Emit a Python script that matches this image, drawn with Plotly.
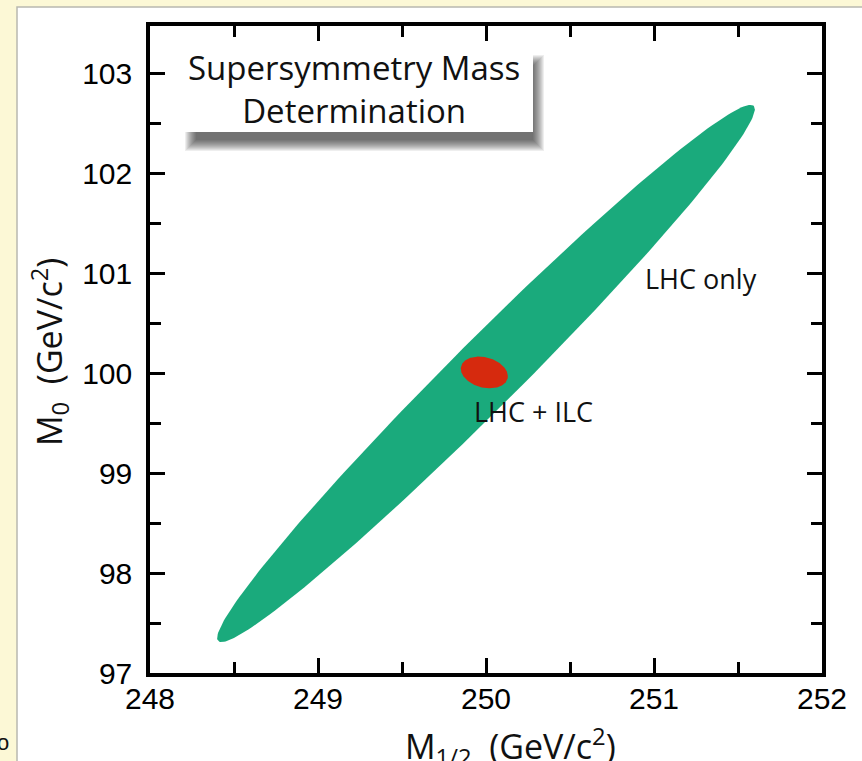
import numpy as np
import plotly.graph_objects as go

# ---- data ----
x_ticks = [248, 249, 250, 251, 252]
y_ticks = [97, 98, 99, 100, 101, 102, 103]

# LHC-only 1-sigma region: centre, widths, correlation
lhc_center = [250.0, 100.0]
lhc_sigma = [1.60, 2.69]
lhc_rho = 0.984

# LHC + ILC region
ilc_center = [249.99, 100.01]
ilc_sigma = [0.140, 0.159]
ilc_rho = -0.234

labels = ["LHC only", "LHC + ILC"]
label_pos = [[251.28, 100.95], [250.28, 99.62]]
title_lines = ["Supersymmetry Mass", "Determination"]

GREEN = "#1aaa7c"
RED = "#d62a0e"


def ellipse(center, sigma, rho, n=240):
    cov = np.array([[sigma[0] ** 2, rho * sigma[0] * sigma[1]],
                    [rho * sigma[0] * sigma[1], sigma[1] ** 2]])
    L = np.linalg.cholesky(cov)
    t = np.linspace(0, 2 * np.pi, n)
    pts = L @ np.vstack([np.cos(t), np.sin(t)])
    return center[0] + pts[0], center[1] + pts[1]


fig = go.Figure()
ex, ey = ellipse(lhc_center, lhc_sigma, lhc_rho)
fig.add_trace(go.Scatter(x=ex, y=ey, fill="toself", fillcolor=GREEN,
                         mode="lines", line=dict(width=0, color=GREEN),
                         hoverinfo="skip", showlegend=False))
rx, ry = ellipse(ilc_center, ilc_sigma, ilc_rho)
fig.add_trace(go.Scatter(x=rx, y=ry, fill="toself", fillcolor=RED,
                         mode="lines", line=dict(width=0, color=RED),
                         hoverinfo="skip", showlegend=False))

W, H = 862, 761
ML, MR, MT, MB = 150, 40, 26, 88
PW, PH = W - ML - MR, H - MT - MB


def px(xp):
    return (xp - ML) / PW


def py(yp):
    return (H - MB - yp) / PH


shapes = []
# white page panel
shapes.append(dict(type="rect", xref="paper", yref="paper", layer="below",
                   x0=px(17), x1=px(870), y0=py(7), y1=py(770),
                   fillcolor="white", line=dict(color="#b8b8b0", width=1.5)))
# title box shadow (layered to imitate blur)
for i in range(12):
    g = 12 - i
    shapes.append(dict(type="rect", xref="paper", yref="paper",
                       x0=px(184 + g), x1=px(545 - g), y0=py(152 - g), y1=py(54 + g),
                       fillcolor="rgba(30,30,30,0.075)", line=dict(width=0)))
shapes.append(dict(type="rect", xref="paper", yref="paper",
                   x0=px(178), x1=px(533), y0=py(132), y1=py(44),
                   fillcolor="white", line=dict(width=0)))

annotations = [
    dict(text="<br>".join(title_lines), xref="paper", yref="paper",
         x=px(354), y=py(89), xanchor="center", yanchor="middle",
         showarrow=False, font=dict(family="Open Sans", size=33, color="#111")),
    dict(text=labels[0], x=label_pos[0][0], y=label_pos[0][1], showarrow=False,
         font=dict(family="Open Sans", size=27, color="#111")),
    dict(text=labels[1], x=label_pos[1][0], y=label_pos[1][1], showarrow=False,
         font=dict(family="Open Sans", size=27, color="#111")),
    dict(text="M<sub>1/2</sub>  (GeV/c<sup>2</sup>)", xref="paper", yref="paper",
         x=px(510), y=py(746), xanchor="center", yanchor="middle",
         showarrow=False, font=dict(family="Open Sans", size=34, color="#111")),
    dict(text="M<sub>0</sub>  (GeV/c<sup>2</sup>)", xref="paper", yref="paper",
         x=px(49), y=py(352), xanchor="center", yanchor="middle", textangle=-90,
         showarrow=False, font=dict(family="Open Sans", size=34, color="#111")),
    dict(text="o", xref="paper", yref="paper", x=px(3), y=py(742),
         xanchor="center", yanchor="middle", showarrow=False,
         font=dict(family="Liberation Sans", size=22, color="#111")),
]

axis_common = dict(showline=True, linewidth=3.5, linecolor="black", mirror="ticks",
                   ticks="inside", ticklen=15, tickwidth=3, tickcolor="black",
                   showgrid=False, zeroline=False,
                   tickfont=dict(family="Liberation Sans", size=30, color="black"),
                   minor=dict(ticks="inside", ticklen=11, tickwidth=3,
                              tickcolor="black", dtick=0.5, showgrid=False))

fig.update_layout(
    width=W, height=H,
    margin=dict(l=ML, r=MR, t=MT, b=MB),
    paper_bgcolor="#fcf8d6", plot_bgcolor="white",
    shapes=shapes, annotations=annotations,
    xaxis=dict(range=[248, 252], tickvals=x_ticks, ticklabelstandoff=-4, **axis_common),
    yaxis=dict(range=[97, 103.48], tickvals=y_ticks, ticklabelstandoff=8, **axis_common),
)

fig.write_html("out.html",
               config={"displayModeBar": False},
               post_script="document.body.style.margin='0px';"
                           "document.body.style.overflow='hidden';")
